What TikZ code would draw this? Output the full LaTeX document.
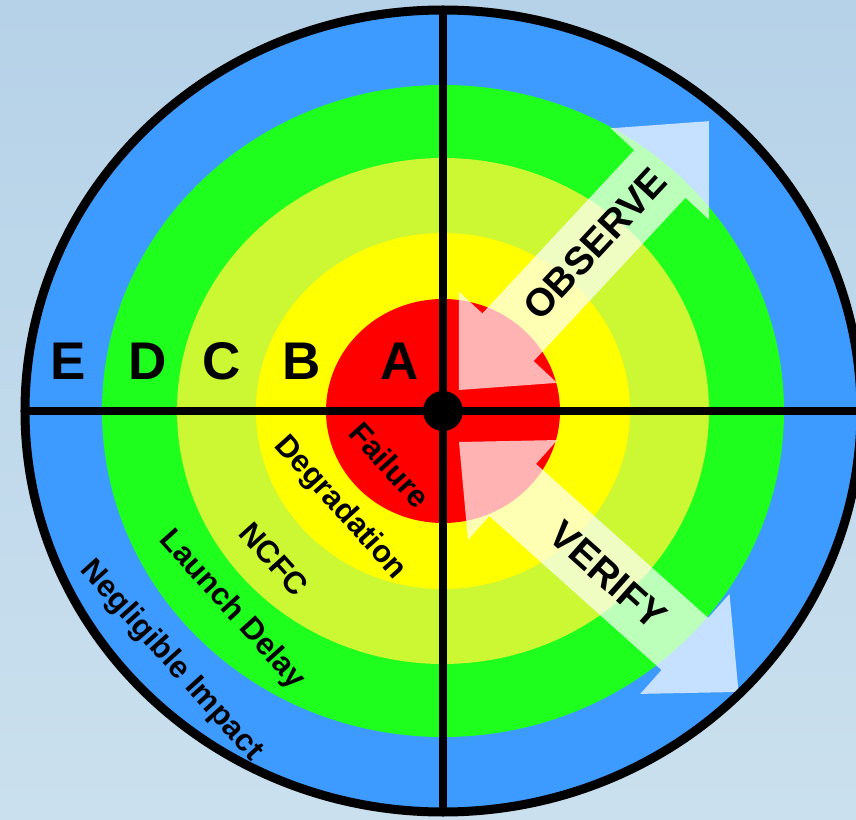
\documentclass[tikz,border=0pt]{standalone}
\usepackage{fontspec}
\setmainfont{Liberation Sans}
\definecolor{bgtop}{RGB}{182,210,232}
\definecolor{bgbot}{RGB}{202,224,238}
\definecolor{ringE}{RGB}{61,155,255}
\definecolor{ringD}{RGB}{30,255,30}
\definecolor{ringC}{RGB}{204,247,51}
\definecolor{ringB}{RGB}{255,255,0}
\definecolor{ringA}{RGB}{255,0,0}
\newcommand{\dblarrow}[1]{%
  (0,0) -- (72,67) -- (72,35) -- (#1-72,35) -- (#1-72,67) -- (#1,0)
  -- (#1-72,-67) -- (#1-72,-35) -- (72,-35) -- (72,-67) -- cycle}
\begin{document}
\begin{tikzpicture}[
      x=0.5pt, y=0.5pt,
      ring/.style={draw=none},
      cross/.style={line width=4pt, black},
      arrowfill/.style={fill=white, fill opacity=0.7, draw=none},
      grade/.style={anchor=base, inner sep=0pt, font=\fontsize{26.5}{30}\selectfont\bfseries},
      arrowlabel/.style={inner sep=0pt, font=\fontsize{19.5}{22}\selectfont\bfseries},
      ringlabel/.style={inner sep=0pt, rotate=-48, font=\fontsize{15.5}{18}\selectfont\bfseries}
      ]
      \useasboundingbox (-443,-408) rectangle (413,411);
      \shade[top color=bgtop, bottom color=bgbot] (-443,-408) rectangle (413,411);
      \coordinate (c) at (0,0);
      \fill[ring, ringE] (c) ellipse [x radius=418, y radius=401];
      \fill[ring, ringD] (c) ellipse [x radius=341, y radius=326];
      \fill[ring, ringC] (c) ellipse [x radius=266, y radius=253];
      \fill[ring, ringB] (c) ellipse [x radius=187, y radius=178];
      \fill[ring, ringA] (c) ellipse [x radius=117, y radius=112];
      \begin{scope}[shift={(16,21)}, rotate=47.1]
        \fill[arrowfill] \dblarrow{367};
        \node[arrowlabel, rotate=47.1] (observe) at (200,0) {OBSERVE};
      \end{scope}
      \begin{scope}[shift={(16,-31)}, rotate=-41.8]
        \fill[arrowfill] \dblarrow{375};
        \node[arrowlabel, rotate=-41.8] (verify) at (200,0) {VERIFY};
      \end{scope}
      \draw[cross] (0,-401) -- (0,401);
      \draw[cross] (-418,0) -- (418,0);
      \draw[line width=4.5pt] (c) ellipse [x radius=418, y radius=401];
      \fill (c) circle (20);
      \node[grade] (e) at (-375,32) {E};
      \node[grade] (d) at (-295,32) {D};
      \node[grade] (cc) at (-221,32) {C};
      \node[grade] (b) at (-141,32) {B};
      \node[grade] (a) at (-43,32) {A};
      \node[ringlabel] (failure) at (-53,-54) {Failure};
      \node[ringlabel] (degradation) at (-103,-97) {Degradation};
      \node[ringlabel] (ncfc) at (-169,-148) {NCFC};
      \node[ringlabel] (launch) at (-211,-199) {Launch Delay};
      \node[ringlabel] (negligible) at (-272,-250) {Negligible Impact};
    \end{tikzpicture}
\end{document}
